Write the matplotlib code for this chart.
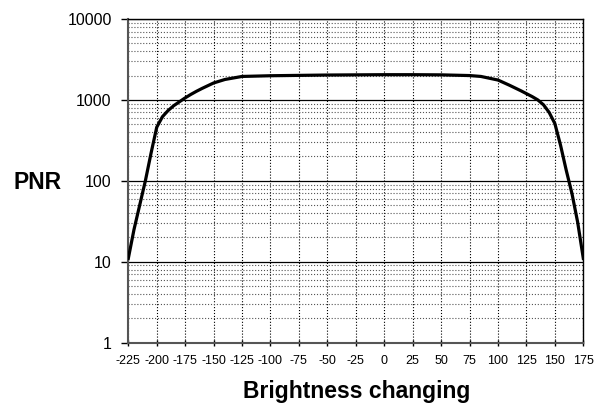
import matplotlib
matplotlib.use("Agg")
import matplotlib.pyplot as plt
from matplotlib.ticker import FixedLocator, LogLocator, NullFormatter

plt.rcParams['font.family'] = ['Liberation Sans', 'DejaVu Sans']
plt.rcParams['axes.unicode_minus'] = False

# brightness shift vs PNR
shift = [-225, -220, -215, -210, -205, -200, -195, -190, -185, -180, -175,
         -170, -165, -160, -150, -140, -125, -100, -75, -50, -25, 0, 25, 50,
         75, 85, 100, 110, 120, 130, 135, 140, 145, 150, 155, 160, 165, 170, 175]
pnr = [11, 25, 50, 100, 220, 460, 620, 740, 850, 950, 1060,
       1170, 1280, 1390, 1620, 1790, 1950, 1990, 2010, 2030, 2040, 2050, 2050, 2040,
       2000, 1950, 1760, 1520, 1300, 1100, 1000, 870, 700, 510, 275, 135, 70, 31, 11]

xticks = list(range(-225, 176, 25))
yticks = [1, 10, 100, 1000, 10000]

fig = plt.figure(figsize=(5.94, 4.04), dpi=100)
ax = fig.add_axes([0.216, 0.1517, 0.766, 0.8013])

ax.plot(shift, pnr, color='black', linewidth=2.3, solid_joinstyle='round', zorder=5)

ax.set_yscale('log')
ax.set_ylim(1, 10000)
ax.set_xlim(-225, 175)

ax.yaxis.set_major_locator(FixedLocator(yticks))
ax.set_yticklabels([str(v) for v in yticks])
ax.yaxis.set_minor_locator(LogLocator(base=10, subs=range(2, 10)))
ax.yaxis.set_minor_formatter(NullFormatter())
ax.set_xticks(xticks)
ax.set_xticklabels([str(v) for v in xticks])

# grid
ax.grid(True, which='major', axis='y', color='black', linestyle='-', linewidth=0.9)
ax.grid(True, which='minor', axis='y', color='#555555', linestyle=':', linewidth=0.8)
ax.grid(True, which='major', axis='x', color='black', linestyle=':', linewidth=0.8)

ax.tick_params(axis='y', which='major', direction='out', length=5, width=1, pad=7, labelsize=11.5)
ax.tick_params(axis='y', which='minor', length=0)
ax.tick_params(axis='x', direction='inout', length=5, width=1, pad=6, labelsize=9)

for s in ['left', 'bottom']:
    ax.spines[s].set_color('#555555')
    ax.spines[s].set_linewidth(1.5)
for s in ['top', 'right']:
    ax.spines[s].set_color('black')
    ax.spines[s].set_linewidth(1.0)

fig.text(0.022, 0.532, 'PNR', fontsize=16.5, fontweight='bold', ha='left', va='baseline')
fig.text(0.601, 0.014, 'Brightness changing', fontsize=16.5, fontweight='bold',
         ha='center', va='baseline')

fig.savefig('out.png', dpi=100)
